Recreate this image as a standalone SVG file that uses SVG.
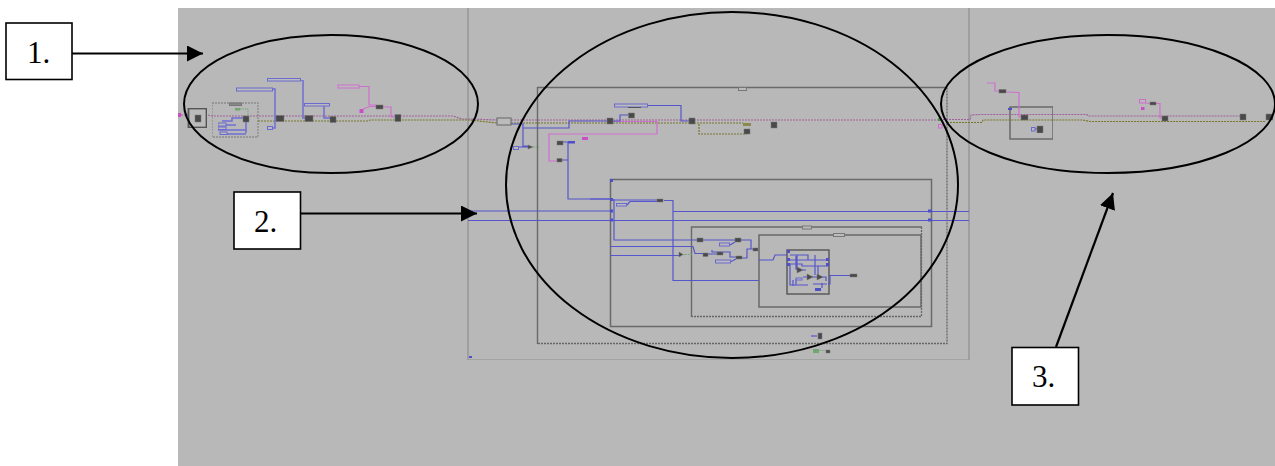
<svg xmlns="http://www.w3.org/2000/svg" width="1275" height="466" viewBox="0 0 1275 466">
<style>
text{font-family:"Liberation Serif","Times New Roman",serif;font-size:31px;fill:#000}
.call{fill:#fff;stroke:#000;stroke-width:1.600}
.ell{fill:none;stroke:#000;stroke-width:2}
.arr{fill:none;stroke:#000;stroke-width:2.200;marker-end:url(#ah)}
.frame{fill:none;stroke:#6e6e6e;stroke-width:1.300}
.thick{fill:none;stroke:#6a6a6a;stroke-width:1.500}
.dash{fill:none;stroke:#666;stroke-width:1.300;stroke-dasharray:2 1}
.t{fill:#4a4a4a;stroke:#777;stroke-width:.5}
.r{fill:#bbb;stroke:#6b6bd0;stroke-width:1}
.rg{fill:#bbb;stroke:#777;stroke-width:1}
.rp{fill:#bbb;stroke:#cf6ccf;stroke-width:1}
.m{fill:#c94fc9}
.b{fill:#4f4fc8}
.g{fill:#6fa66f}
.w{fill:none;stroke:#5555cc;stroke-width:1.200}
.w2{fill:none;stroke:#6f6fd2;stroke-width:1.500}
.p{fill:none;stroke:#cf70cf;stroke-width:1.200}
.pd{fill:none;stroke:#a0609c;stroke-width:1.200;stroke-dasharray:2 1}
.o{fill:none;stroke:#77772a;stroke-width:1.200;stroke-dasharray:2 1}
.gn{fill:none;stroke:#6fa66f;stroke-width:1;stroke-dasharray:1.500 1}
.soft{filter:url(#soft)}
</style>
<defs>
<marker id="ah" markerUnits="userSpaceOnUse" markerWidth="16" markerHeight="16" refX="16" refY="8" orient="auto"><path d="M0 0L16 8L0 16Z" fill="#000"/></marker>
<filter id="soft" x="0" y="0" width="1" height="1" filterUnits="objectBoundingBox"><feGaussianBlur stdDeviation="0.3"/></filter>
</defs>
<rect id="background" x="178" y="8" width="1097" height="458" fill="#b8b8b8"/>
<g id="frames" class="soft">
<path d="M468 8V360H969V8" fill="none" stroke="#8f8f8f" stroke-width="1.200"/>
<path d="M537.500 344V87.500H947" fill="none" stroke="#6a6a6a" stroke-width="1.400"/>
<path class="dash" d="M947 87.500V343.500H537.500"/>
<rect class="thick" x="610.500" y="179.500" width="321" height="147"/>
<path d="M691.500 317V227H922" fill="none" stroke="#6a6a6a" stroke-width="1.400"/>
<path class="dash" d="M921.500 227V316.500H691.500"/>
<rect class="thick" x="759" y="235" width="162" height="72"/>
<rect x="787" y="250" width="42" height="44" fill="none" stroke="#555" stroke-width="1.400"/>
<rect class="thick" x="1010" y="107" width="43" height="32"/>
<rect class="dash" x="212" y="103" width="46" height="34" style="stroke:#8c8c8c"/>
</g>
<g id="connectors" class="soft">
<path class="pd" d="M178 115H208L212 116H453L462 119H470L497 120M511 120H940"/>
<path class="o" d="M258 121H368L370 120H470L497 123M511 123H743"/>
<path class="p" d="M613 121.500H657V134H549V161H557"/>
<path class="pd" d="M940 119.500H970L971 115L980 114.500H1087L1088 116H1240"/>
<path class="o" d="M947 122.500H982L983 120H1083L1090 121.500H1266"/>
<path class="w2" d="M273 89H275V118H279M272 128H275V118M301 80H303V118H308M324 106V118H333"/>
<path class="w2" d="M222 121H232V118H243M218 125H236M218 130H246M221 134H246M246 120V133"/>
<path class="p" d="M359 86.500H369V105H376M383 107H391V117H395M363 109L370 106.500H376"/>
<path class="gn" d="M235 109H248V118"/>
<path class="w" d="M511 124H523V128H569V121H607M523 128V146H528M519 147H528"/>
<path class="gn" d="M533 147H539"/>
<path class="w" d="M613 121H620V115H628M648 105.500H681V121H689"/>
<path class="o" d="M699 124V134H747"/>
<path class="w" d="M563 142H568V199H612M562 160H568"/>
<path class="w" d="M468 211H610M673 211.500H969M468 220.500H969"/>
<path class="w" d="M590 199H610M614 199V240H697M612 200H660M664 200.500H673V280.500H759"/>
<path class="w" d="M627 205L630 201.500H660"/>
<path class="w" d="M610 246.500H693L695 253.500H703M610 255.500H679"/>
<path class="gn" d="M683 254.500H692"/>
<path class="w" d="M703 240H735M730 245L735 242M708 254H717M712 250V252H730V257H736M731 261.500L736 259M741 240H751V249H753M742 258H747V249H753"/>
<path class="w" d="M759 260H773L775 255H787M790 255H808V260H828M789 260H828M789 264H802V266H828M797 255V270M790 264V285H808M796 256V269L800 270M806 266H818V275M815 255V275M802 270H806M803 277H808M811 277H817M820 277H826V281M813 284H827M822 283V288M796 279V285M793 280V286"/>
<path class="w" d="M828 284H830V275.500H850"/>
<path class="p" d="M987 83H995V91H999M1006 92L1019 92.500V117H1021"/>
<path class="w" d="M1035 129H1037"/>
<path class="p" d="M1146 103L1150 103.500M1156 103.500H1160V118H1162"/>
<path class="w" d="M811 336H817"/>
<path d="M819 351H826" fill="none" stroke="#6fa66f"/>
</g>
<g id="node-left-icon" class="soft">
<rect x="188.500" y="108.500" width="18" height="19" fill="#bbb" stroke="#555" stroke-width="1.800"/>
<rect x="195" y="115" width="6" height="7" class="t"/>
<rect x="178" y="113" width="3" height="4" class="m"/>
</g>
<g id="nodes-section-1" class="soft">
<rect class="rg" x="229.500" y="103" width="12" height="2.500" style="fill:#888"/>
<rect class="g" x="235" y="108" width="5" height="2.500"/>
<rect class="t" x="243" y="116" width="6" height="6"/>
<rect class="r" x="218" y="123" width="8" height="3"/>
<rect class="r" x="218" y="127" width="8" height="2.500"/>
<rect class="r" x="220" y="132" width="7" height="2.500"/>
<rect class="r" x="236.500" y="88" width="36" height="3"/>
<rect class="r" x="267.500" y="78.500" width="33" height="2.500"/>
<rect class="r" x="304.500" y="103.500" width="25" height="2.500"/>
<rect class="r" x="267.500" y="126.500" width="5" height="3"/>
<rect class="t" x="276" y="115.500" width="8" height="6"/>
<rect class="t" x="305" y="115.500" width="8" height="6"/>
<rect class="t" x="330" y="116.500" width="6" height="6"/>
<rect class="rp" x="338" y="85" width="21" height="3" stroke-width="1.200"/>
<rect class="m" x="359.500" y="109" width="4" height="4"/>
<rect class="t" x="376" y="105" width="7" height="4"/>
<rect class="t" x="395" y="114.500" width="6" height="7"/>
</g>
<g id="nodes-section-2" class="soft">
<rect class="rg" x="497" y="118" width="14" height="7" style="stroke:#666"/>
<rect class="rg" x="738.500" y="87.500" width="8" height="3"/>
<path class="t" d="M528 145L533 147L528 149Z"/>
<rect class="r" x="513.500" y="146.500" width="5" height="3"/>
<rect class="t" x="607" y="118" width="6" height="6"/>
<rect class="t" x="628.500" y="113" width="6" height="5"/>
<rect class="r" x="614.500" y="104" width="33" height="3"/>
<rect x="628" y="107" width="13" height="1" fill="#555"/>
<rect class="t" x="689" y="118" width="6" height="6"/>
<rect x="743" y="123" width="8" height="3" fill="#8a8a50"/>
<rect class="t" x="744" y="129" width="6" height="5"/>
<rect class="t" x="771" y="122" width="6" height="6"/>
<rect class="t" x="557" y="141" width="6" height="4"/>
<rect class="b" x="568" y="141" width="7" height="2.500"/>
<rect class="t" x="557" y="158.500" width="5" height="3.500"/>
<rect class="m" x="582" y="137" width="6" height="3"/>
<rect class="b" x="610" y="179" width="3" height="3"/>
<rect class="b" x="610" y="198" width="3" height="3"/>
<rect class="b" x="610" y="209.500" width="3" height="3"/>
<rect class="b" x="610" y="218.500" width="3" height="3"/>
<rect class="b" x="928" y="209.500" width="4" height="3"/>
<rect class="b" x="928" y="218.500" width="4" height="3"/>
<rect class="r" x="616.500" y="203.500" width="10" height="2.500"/>
<rect class="t" x="657" y="199" width="6" height="3"/>
<rect class="rg" x="802.500" y="226" width="9" height="3"/>
<rect class="rg" x="833.500" y="233.500" width="11" height="3"/>
<rect class="t" x="697" y="238" width="6" height="4"/>
<rect class="t" x="735" y="238" width="6" height="4"/>
<rect class="r" x="719.500" y="243" width="10" height="3"/>
<rect class="t" x="703" y="253" width="5" height="3.500"/>
<rect class="t" x="717" y="252" width="6" height="3"/>
<rect class="t" x="736" y="256" width="6" height="3"/>
<rect class="r" x="715.500" y="260" width="15" height="3"/>
<rect class="t" x="753" y="248" width="5" height="3"/>
<path class="t" d="M679 252L683 254.500L679 257Z"/>
<rect class="b" x="787" y="250" width="3" height="3"/>
<rect class="b" x="787" y="258" width="3" height="3"/>
<rect class="b" x="787" y="263" width="3" height="3"/>
<rect class="b" x="826" y="258" width="3" height="3"/>
<rect class="b" x="826" y="263" width="3" height="3"/>
<path class="t" d="M797 267L803 270L797 273Z"/>
<path class="t" d="M807 274L813 277L807 280Z"/>
<path class="t" d="M817 274L823 277L817 280Z"/>
<rect class="r" x="796" y="278" width="6" height="2"/>
<rect class="b" x="815" y="288" width="6" height="3"/>
<rect class="t" x="850" y="274" width="7" height="3"/>
<rect class="t" x="818" y="333" width="4" height="6"/>
<rect class="g" x="813" y="349" width="6" height="4"/>
<rect class="t" x="826" y="350" width="4" height="3"/>
<rect class="b" x="469" y="356" width="3" height="2"/>
</g>
<g id="nodes-section-3" class="soft">
<rect x="938" y="118" width="3" height="3" fill="#4c9a4c"/>
<rect class="rp" x="938.500" y="124.500" width="3.500" height="3.500"/>
<rect class="b" x="1008" y="108" width="4" height="2"/>
<rect class="t" x="1021" y="115" width="7" height="5"/>
<rect class="t" x="999" y="89.500" width="7" height="3.500"/>
<rect class="r" x="1031.500" y="127.500" width="3.500" height="3.500"/>
<rect class="t" x="1037" y="126" width="6" height="7"/>
<rect class="rp" x="1139.500" y="99.500" width="6" height="3.500"/>
<rect class="m" x="1141" y="107" width="3.500" height="3"/>
<rect class="t" x="1150" y="102" width="6" height="3"/>
<rect class="t" x="1162" y="116" width="6" height="5"/>
<rect class="t" x="1240" y="114" width="6" height="6"/>
<rect class="t" x="1266" y="114" width="7" height="6"/>
</g>
<g id="callouts">
<ellipse class="ell" cx="331" cy="104" rx="147" ry="69"/>
<ellipse class="ell" cx="732" cy="185" rx="226" ry="173"/>
<ellipse class="ell" cx="1108" cy="104" rx="167" ry="69"/>
<path class="arr" d="M72 53.500H203"/>
<path class="arr" d="M300 213.500H477"/>
<path class="arr" d="M1056 347L1113 193"/>
</g>
<g id="label-1"><rect class="call" x="6" y="23" width="66" height="56.500"/><text x="27" y="63">1.</text></g>
<g id="label-2"><rect class="call" x="234" y="192" width="66.500" height="57"/><text x="254" y="232">2.</text></g>
<g id="label-3"><rect class="call" x="1012" y="347.500" width="66.500" height="57.500"/><text x="1032" y="387">3.</text></g>
</svg>
